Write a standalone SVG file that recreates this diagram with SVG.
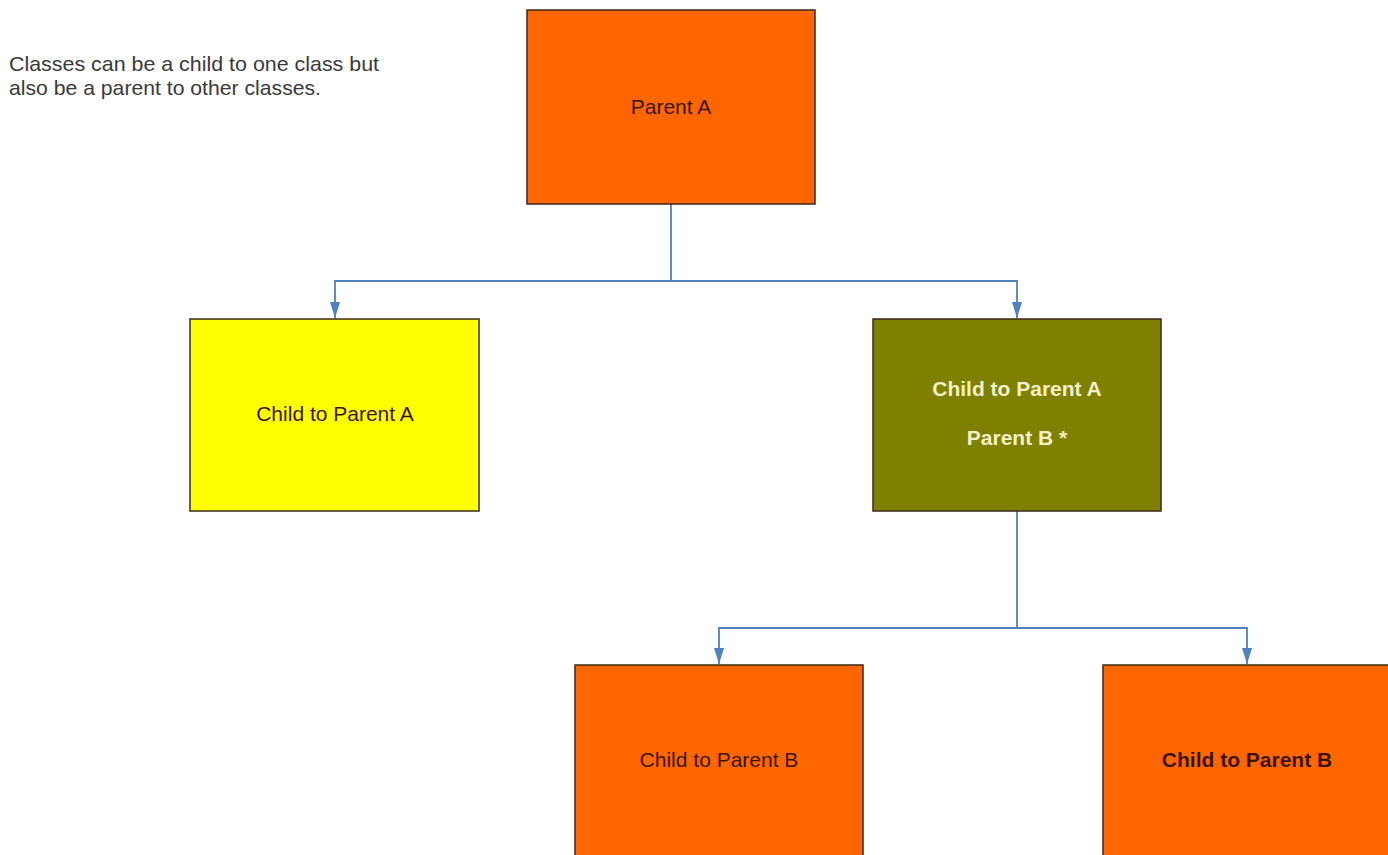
<svg xmlns="http://www.w3.org/2000/svg" width="1388" height="855" viewBox="0 0 1388 855">
<style>
.box{stroke:#3a2a1a;stroke-width:1.5}
.o{fill:#ff6600}
.t{font-family:"Liberation Sans",Arial,sans-serif;font-size:21px;fill:#3a1400;text-anchor:middle}
.b{font-weight:bold}
.w{fill:#f4f0c8}
.note{font-family:"Liberation Sans",Arial,sans-serif;font-size:21px;fill:#3a3a3a}
.c{fill:none;stroke:#4f81bd;stroke-width:1.8}
</style>
<defs>
<marker id="ah" markerWidth="16" markerHeight="10" refX="16" refY="5" orient="auto" markerUnits="userSpaceOnUse" viewBox="0 0 16 10">
<path d="M0,0 L16,5 L0,10 Z" fill="#4f81bd"/>
</marker>
</defs>
<rect width="1388" height="855" fill="#ffffff"/>
<g id="note">
<text class="note" x="9" y="71" textLength="370" lengthAdjust="spacingAndGlyphs">Classes can be a child to one class but</text>
<text class="note" x="9" y="95" textLength="312" lengthAdjust="spacingAndGlyphs">also be a parent to other classes.</text>
</g>
<g id="connectors">
<path class="c" d="M671,204 V281 H335 V318" marker-end="url(#ah)"/>
<path class="c" d="M671,281 H1017 V318" marker-end="url(#ah)"/>
<path class="c" d="M1017,511 V628 H719 V664" marker-end="url(#ah)"/>
<path class="c" d="M1017,628 H1247 V664" marker-end="url(#ah)"/>
</g>
<g id="parentA">
<rect class="box o" x="527" y="10" width="288" height="194"/>
<text class="t" x="671" y="114">Parent A</text>
</g>
<g id="childA">
<rect class="box" fill="#ffff00" x="190" y="319" width="289" height="192"/>
<text class="t" x="335" y="421">Child to Parent A</text>
</g>
<g id="parentB">
<rect class="box" fill="#808000" x="873" y="319" width="288" height="192"/>
<text class="t b w" x="1017" y="396">Child to Parent A</text>
<text class="t b w" x="1017" y="445">Parent B *</text>
</g>
<g id="childB1">
<rect class="box o" x="575" y="665" width="288" height="200"/>
<text class="t" x="719" y="767">Child to Parent B</text>
</g>
<g id="childB2">
<rect class="box o" x="1103" y="665" width="300" height="200"/>
<text class="t b" x="1247" y="767">Child to Parent B</text>
</g>
</svg>
